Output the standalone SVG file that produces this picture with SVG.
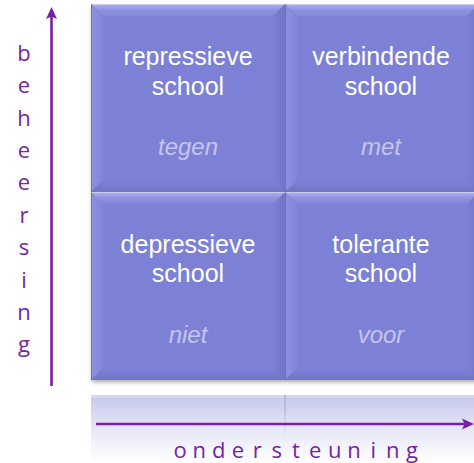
<svg xmlns="http://www.w3.org/2000/svg" width="474" height="463" viewBox="0 0 474 463">
  <style>
    .main { font-family: "Liberation Sans", Arial, sans-serif; font-size: 25px; fill: #ffffff; text-anchor: middle; }
    .sub { font-family: "Liberation Sans", Arial, sans-serif; font-size: 24px; font-style: italic; fill: #c3c5ee; text-anchor: middle; }
    .axis { font-family: "Open Sans", "Noto Sans", sans-serif; font-size: 22px; fill: #7424a2; text-anchor: middle; }
    .arrow { stroke: #7a20a6; stroke-width: 2.6; fill: none; }
  </style>
  <defs>
    <linearGradient id="gTop" x1="0" y1="0" x2="0" y2="1">
      <stop offset="0" stop-color="#aeb2f2"/>
      <stop offset="0.5" stop-color="#8e93e0"/>
      <stop offset="1" stop-color="#8287d9"/>
    </linearGradient>
    <linearGradient id="gLeft" x1="0" y1="0" x2="1" y2="0">
      <stop offset="0" stop-color="#8c91df"/>
      <stop offset="1" stop-color="#8085d8"/>
    </linearGradient>
    <linearGradient id="gRight" x1="0" y1="0" x2="1" y2="0">
      <stop offset="0" stop-color="#7c81d5"/>
      <stop offset="1" stop-color="#7075c8"/>
    </linearGradient>
    <linearGradient id="gBottom" x1="0" y1="0" x2="0" y2="1">
      <stop offset="0" stop-color="#7c81d5"/>
      <stop offset="1" stop-color="#7075c8"/>
    </linearGradient>
    <linearGradient id="gRefl" x1="0" y1="0" x2="0" y2="1">
      <stop offset="0" stop-color="#c5c7ec"/>
      <stop offset="0.5" stop-color="#e6e7f7"/>
      <stop offset="1" stop-color="#ffffff"/>
    </linearGradient>
    <linearGradient id="gReflLine" x1="0" y1="0" x2="0" y2="1">
      <stop offset="0" stop-color="#9a9cc0"/>
      <stop offset="1" stop-color="#9a9cc0" stop-opacity="0"/>
    </linearGradient>
    <filter id="shadow" x="-5%" y="-5%" width="110%" height="110%">
      <feGaussianBlur stdDeviation="2"/>
    </filter>
    <symbol id="tile" viewBox="0 0 194 188" width="194" height="188" overflow="visible">
      <rect x="0" y="0" width="194" height="188" fill="#7c81d5"/>
      <polygon points="0,0 194,0 182,12 12,12" fill="url(#gTop)"/>
      <polygon points="0,0 12,12 12,176 0,188" fill="url(#gLeft)"/>
      <polygon points="194,0 194,188 182,176 182,12" fill="url(#gRight)"/>
      <polygon points="0,188 12,176 182,176 194,188" fill="url(#gBottom)"/>
      <rect x="12" y="12" width="170" height="164" fill="#7c81d5"/>
      <line x1="0" y1="0.5" x2="194" y2="0.5" stroke="#c9cbe8" stroke-width="1"/>
      <line x1="0.5" y1="0" x2="0.5" y2="188" stroke="#5d6198" stroke-width="1" stroke-opacity="0.6"/>
    </symbol>
  </defs>

  <!-- shadow and reflection -->
  <rect x="92" y="7" width="390" height="375" fill="#000" opacity="0.35" filter="url(#shadow)"/>
  <rect x="91" y="395" width="383" height="68" fill="url(#gRefl)"/>
  <rect x="91" y="395" width="383" height="3" fill="#d4d6f2"/>
  <rect x="284.5" y="395" width="1" height="45" fill="url(#gReflLine)"/>

  <g id="node-repressieve">
    <use href="#tile" x="91" y="4"/>
    <text class="main" x="188" y="65">repressieve</text>
    <text class="main" x="188" y="95">school</text>
    <text class="sub" x="188" y="155">tegen</text>
  </g>
  <g id="node-verbindende">
    <use href="#tile" x="285" y="4"/>
    <text class="main" x="381" y="65">verbindende</text>
    <text class="main" x="381" y="95">school</text>
    <text class="sub" x="381" y="155">met</text>
  </g>
  <g id="node-depressieve">
    <use href="#tile" x="91" y="192"/>
    <text class="main" x="188" y="253">depressieve</text>
    <text class="main" x="188" y="282">school</text>
    <text class="sub" x="188" y="343">niet</text>
  </g>
  <g id="node-tolerante">
    <use href="#tile" x="285" y="192"/>
    <text class="main" x="381" y="253">tolerante</text>
    <text class="main" x="381" y="282">school</text>
    <text class="sub" x="381" y="343">voor</text>
  </g>

  <g id="connectors">
    <line class="arrow" x1="51.5" y1="386" x2="51.5" y2="16"/>
    <polygon points="51.5,7 57,19 51.5,16.5 46,19" fill="#7a20a6"/>
    <line class="arrow" x1="96" y1="424" x2="466" y2="424"/>
    <polygon points="474,424 462,418.5 464.5,424 462,429.5" fill="#7a20a6"/>
  </g>

  <g id="axis-labels">
    <text class="axis" x="24 24 24 24 24 24 24 24 24 24" y="61 93 126 158 190 223 255 288 320 352">beheersing</text>
    <text class="axis" x="180 199.3 218.7 238 257.3 276.7 296 315.3 334.7 354 373.3 392.7 412" y="458">ondersteuning</text>
  </g>
</svg>
